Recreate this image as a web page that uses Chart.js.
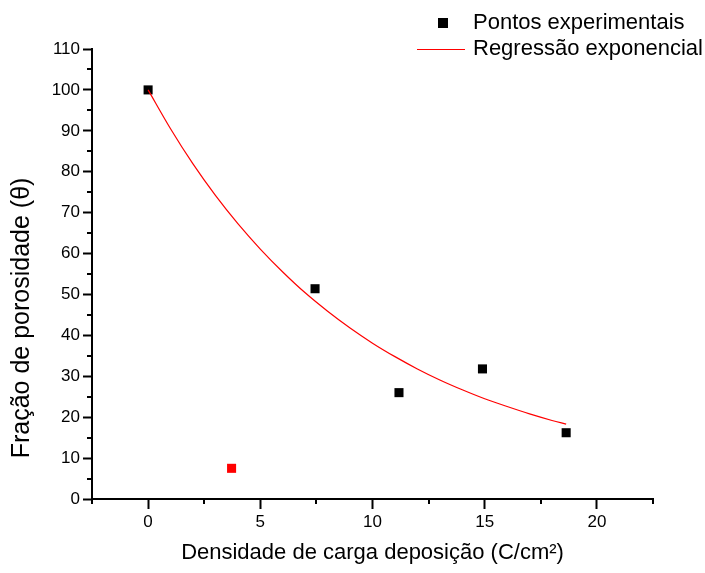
<!DOCTYPE html>
<html>
<head>
<meta charset="utf-8">
<script src="https://cdn.jsdelivr.net/npm/chart.js@4.4.0/dist/chart.umd.min.js"></script>
<style>
  html, body { margin: 0; padding: 0; background: #fff; }
  #wrap { width: 705px; height: 573px; position: relative; }
</style>
</head>
<body>
<div id="wrap"><canvas id="porosityChart"></canvas></div>
<script>
// experimental points (C/cm2 vs porosity fraction)
const expX = [0, 7.44, 11.18, 14.9, 18.63];
const expY = [100, 51.4, 26.0, 31.8, 16.2];

// the odd point drawn in red
const outlierX = [3.72];
const outlierY = [7.5];

// exponential regression curve
const fitX = [0, 1, 2, 3, 4, 5, 6, 7, 8, 9, 10, 11, 12, 13, 14, 15, 16, 17, 18, 18.63];
const fitY = [100, 90.5, 81.9, 74.2, 67.3, 61.1, 55.5, 50.4, 45.9, 41.8, 38.1, 34.8, 31.8, 29.1, 26.7, 24.5, 22.6, 20.8, 19.2, 18.3];

const FONT = '"Liberation Sans", Arial, Helvetica, sans-serif';

const toPoints = (xs, ys) => xs.map((x, i) => ({ x, y: ys[i] }));
const isMajor = (v, step) => Math.abs(v / step - Math.round(v / step)) < 1e-6;

// minor ticks, legend and y title
const extras = {
  id: "extras",
  afterDraw(chart) {
    const { ctx, chartArea, scales } = chart;
    ctx.save();
    ctx.strokeStyle = "#000";
    ctx.lineWidth = 2;

    // minor ticks (shorter)
    scales.x.ticks.forEach(t => {
      if (isMajor(t.value, 5)) return;
      const px = Math.round(scales.x.getPixelForValue(t.value));
      ctx.beginPath();
      ctx.moveTo(px, chartArea.bottom);
      ctx.lineTo(px, chartArea.bottom + 5);
      ctx.stroke();
    });
    scales.y.ticks.forEach(t => {
      if (isMajor(t.value, 10)) return;
      const py = Math.round(scales.y.getPixelForValue(t.value));
      ctx.beginPath();
      ctx.moveTo(chartArea.left, py);
      ctx.lineTo(chartArea.left - 5, py);
      ctx.stroke();
    });

    // legend
    ctx.font = "22px " + FONT;
    ctx.textAlign = "left";
    ctx.textBaseline = "middle";
    ctx.fillStyle = "#000";
    ctx.fillRect(438, 18, 10, 10);
    ctx.fillText(chart.data.datasets[1].label, 473, 23);
    ctx.strokeStyle = "#ff0000";
    ctx.lineWidth = 1.2;
    ctx.beginPath();
    ctx.moveTo(417, 49.5);
    ctx.lineTo(465, 49.5);
    ctx.stroke();
    ctx.fillText(chart.data.datasets[0].label, 473, 49);

    // y axis title
    ctx.font = "25px " + FONT;
    ctx.translate(22, 318);
    ctx.rotate(-Math.PI / 2);
    ctx.textAlign = "center";
    ctx.fillText("Fração de porosidade (θ)", 0, 0);
    ctx.restore();
  }
};

const ctx = document.getElementById("porosityChart").getContext("2d");

new Chart(ctx, {
  type: "scatter",
  data: {
    datasets: [
      {
        label: "Regressão exponencial",
        data: toPoints(fitX, fitY),
        showLine: true,
        borderColor: "#ff0000",
        borderWidth: 1.2,
        pointRadius: 0,
        cubicInterpolationMode: "monotone",
        order: 0
      },
      {
        label: "Pontos experimentais",
        data: toPoints(expX, expY),
        pointStyle: "rect",
        pointRadius: 6.4,
        backgroundColor: "#000",
        borderColor: "#000",
        borderWidth: 0,
        order: 1
      },
      {
        label: "outlier",
        data: toPoints(outlierX, outlierY),
        pointStyle: "rect",
        pointRadius: 6.4,
        backgroundColor: "#ff0000",
        borderColor: "#ff0000",
        borderWidth: 0,
        order: 1
      }
    ]
  },
  options: {
    responsive: true,
    maintainAspectRatio: false,
    animation: false,
    layout: { padding: { left: 0, right: 52, top: 49, bottom: 0 } },
    plugins: {
      legend: { display: false },
      tooltip: { enabled: false }
    },
    scales: {
      x: {
        type: "linear",
        min: -2.5,
        max: 22.5,
        afterFit: s => { s.height = 74; },
        border: { display: true, color: "#000", width: 2 },
        grid: {
          drawOnChartArea: false,
          drawTicks: true,
          tickLength: 10,
          tickWidth: 2,
          tickColor: c => isMajor(c.tick.value, 5) ? "#000" : "rgba(0,0,0,0)"
        },
        ticks: {
          stepSize: 2.5,
          autoSkip: false,
          maxRotation: 0,
          padding: 3,
          color: "#000",
          font: { family: FONT, size: 17 },
          callback: v => isMajor(v, 5) ? String(Math.round(v)) : ""
        },
        title: {
          display: true,
          text: "Densidade de carga deposição (C/cm²)",
          color: "#000",
          font: { family: FONT, size: 22 },
          padding: { top: 0, bottom: 7 }
        }
      },
      y: {
        type: "linear",
        min: 0,
        max: 110,
        afterFit: s => { s.width = 92; },
        border: { display: true, color: "#000", width: 2 },
        grid: {
          drawOnChartArea: false,
          drawTicks: true,
          tickLength: 9,
          tickWidth: 2,
          tickColor: c => isMajor(c.tick.value, 10) ? "#000" : "rgba(0,0,0,0)"
        },
        ticks: {
          stepSize: 5,
          autoSkip: false,
          padding: 3,
          color: "#000",
          font: { family: FONT, size: 17 },
          callback: v => isMajor(v, 10) ? String(Math.round(v)) : ""
        },
        title: { display: false }
      }
    }
  },
  plugins: [extras]
});
</script>
</body>
</html>
